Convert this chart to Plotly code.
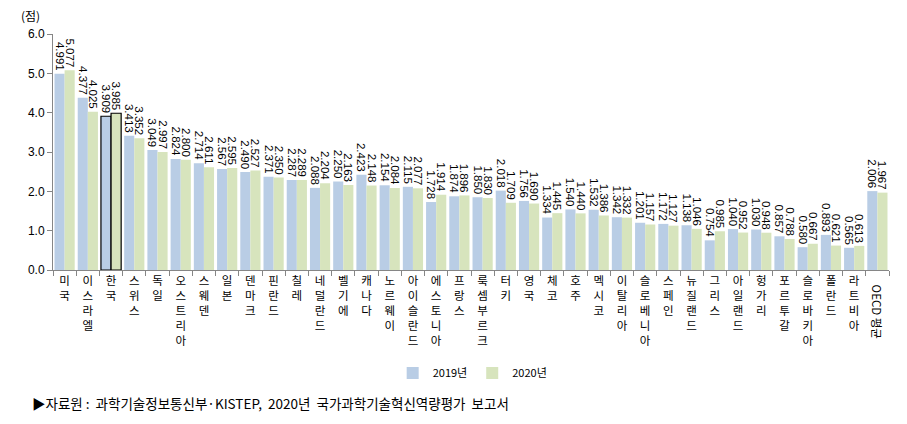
import plotly.graph_objects as go

countries = ["미국", "이스라엘", "한국", "스위스", "독일", "오스트리아", "스웨덴", "일본", "덴마크",
             "핀란드", "칠레", "네덜란드", "벨기에", "캐나다", "노르웨이", "아이슬란드", "에스토니아",
             "프랑스", "룩셈부르크", "터키", "영국", "체코", "호주", "멕시코", "이탈리아", "슬로베니아",
             "스페인", "뉴질랜드", "그리스", "아일랜드", "헝가리", "포르투갈", "슬로바키아", "폴란드",
             "라트비아", "OECD 평균"]
v2019 = [4.991, 4.377, 3.909, 3.413, 3.049, 2.824, 2.714, 2.567, 2.490, 2.371, 2.287, 2.088, 2.250,
         2.423, 2.154, 2.115, 1.728, 1.874, 1.850, 2.018, 1.756, 1.334, 1.540, 1.532, 1.342, 1.201,
         1.172, 1.138, 0.754, 1.040, 1.030, 0.857, 0.580, 0.893, 0.565, 2.006]
v2020 = [5.077, 4.025, 3.985, 3.352, 2.997, 2.800, 2.611, 2.595, 2.527, 2.350, 2.289, 2.204, 2.163,
         2.148, 2.084, 2.077, 1.914, 1.896, 1.830, 1.709, 1.690, 1.445, 1.440, 1.386, 1.332, 1.157,
         1.127, 1.046, 0.985, 0.952, 0.948, 0.788, 0.667, 0.621, 0.613, 1.967]
y_ticks = [0, 1, 2, 3, 4, 5, 6]

highlight = "한국"
line_w = [1.2 if c == highlight else 0 for c in countries]

FONT = "Liberation Sans, Noto Sans CJK KR, sans-serif"
KFONT = "Noto Sans CJK KR, sans-serif"

fig = go.Figure()
for name, vals, col in [("2019년", v2019, "#b9cde5"), ("2020년", v2020, "#d7e4bd")]:
    fig.add_trace(go.Bar(
        x=countries, y=vals, name=name,
        marker=dict(color=col, line=dict(color="black", width=line_w)),
        text=[f"{v:.3f}" for v in vals], textposition="outside", textangle=90,
        textfont=dict(family=FONT, size=11.5, color="black"),
        constraintext="none", cliponaxis=False,
    ))

ticktext = ["<br>".join(list(c)) if c != "OECD 평균" else "" for c in countries]

fig.update_layout(
    width=907, height=424,
    margin=dict(l=53, r=18, t=34, b=154),
    paper_bgcolor="white", plot_bgcolor="white",
    barmode="group", bargap=0.13, bargroupgap=0,
    font=dict(family=KFONT, size=11, color="black"),
    legend=dict(orientation="h", x=0.502, xanchor="center", y=-0.436, yanchor="middle",
                font=dict(family=KFONT, size=11), itemwidth=30, traceorder="normal"),
    uniformtext=dict(mode=False),
)
fig.update_xaxes(
    tickmode="array", tickvals=countries, ticktext=ticktext,
    tickangle=0, tickfont=dict(family=KFONT, size=11.5),
    showline=True, linecolor="#868686", linewidth=1,
    ticks="outside", tickson="boundaries", ticklen=5, tickcolor="#868686",
    showgrid=False,
)
fig.update_yaxes(
    range=[0, 6], tickvals=y_ticks, tickformat=".1f",
    tickfont=dict(family=FONT, size=12),
    showline=True, linecolor="#868686", linewidth=1,
    ticks="outside", ticklen=5, tickcolor="#868686",
    showgrid=False, zeroline=False,
)

fig.add_annotation(text="(점)", xref="paper", yref="paper",
                   x=(30 - 53) / 836, y=(270 - 15) / 236, xanchor="center", yanchor="middle",
                   showarrow=False, font=dict(family=KFONT, size=12))
fig.add_annotation(text="OECD 평균", xref="x", yref="paper", x="OECD 평균",
                   y=(270 - 283) / 236, yanchor="top", xanchor="center", textangle=90,
                   showarrow=False, font=dict(family=KFONT, size=11.5))
fig.add_annotation(text="▶자료원 :  과학기술정보통신부·KISTEP,  2020년  국가과학기술혁신역량평가  보고서",
                   xref="paper", yref="paper", x=(30 - 53) / 836, y=(270 - 403) / 236,
                   xanchor="left", yanchor="middle", showarrow=False,
                   font=dict(family=KFONT, size=13.5))

fig.write_html("out.html")
